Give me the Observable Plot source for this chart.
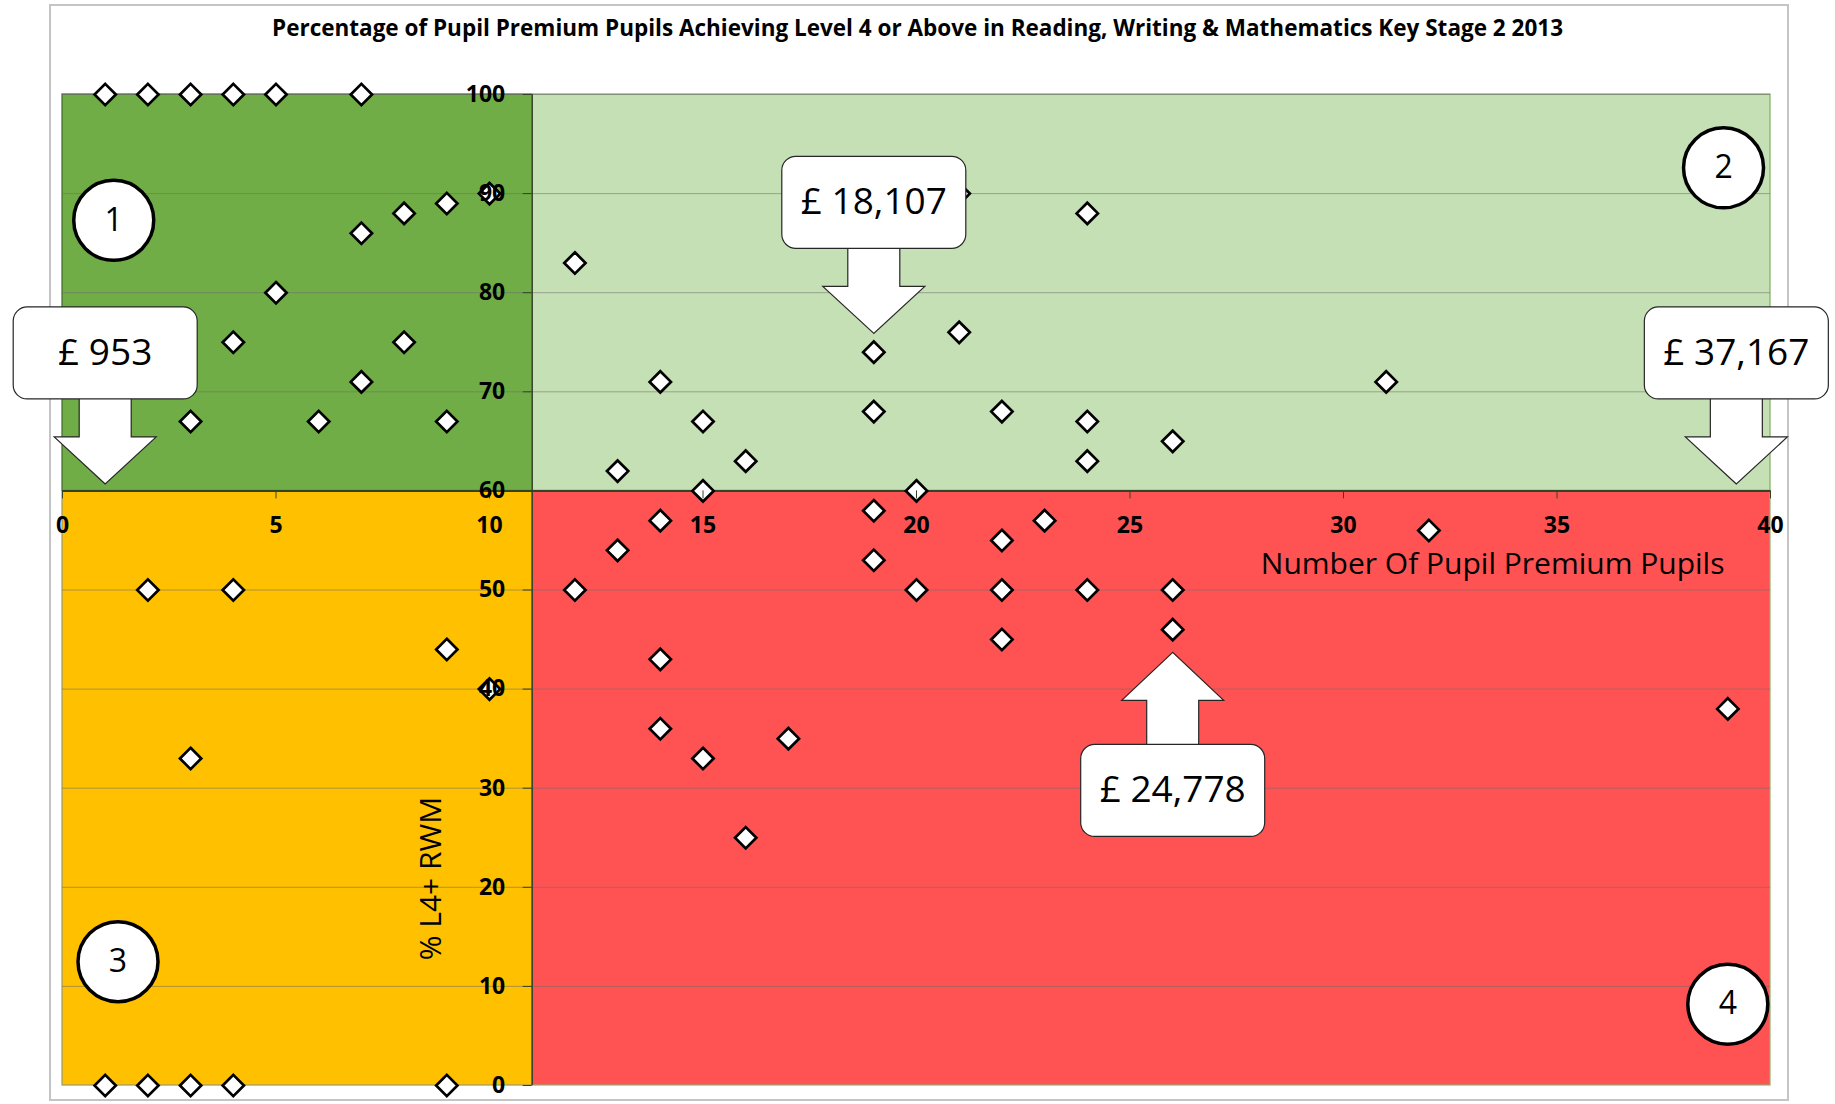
<!DOCTYPE html>
<html><head><meta charset="utf-8">
<script src="https://cdn.jsdelivr.net/npm/d3@7"></script>
<script src="https://cdn.jsdelivr.net/npm/@observablehq/plot@0.6"></script>
<style>
html,body{margin:0;padding:0;background:#fff;}
#wrap{position:relative;width:1835px;height:1104px;overflow:hidden;font-family:"Open Sans",sans-serif;}
#frame{position:absolute;left:49px;top:4px;width:1740px;height:1097px;border:2px solid #c4c4c4;box-sizing:border-box;}
#title{position:absolute;left:0;top:0;width:1835px;height:56px;line-height:56px;text-align:center;font-weight:700;font-size:22.5px;color:#000;white-space:nowrap;}
#chart{position:absolute;left:0;top:60px;}
</style></head>
<body><div id="wrap"><div id="frame"></div><div id="title"></div><div id="chart"></div></div>
<script>
// ---- text ----
const titleText = "Percentage of Pupil Premium Pupils Achieving Level 4 or Above in Reading, Writing & Mathematics Key Stage 2 2013";
const xLabel = "Number Of Pupil Premium Pupils";
const yLabel = "% L4+ RWM";

// ---- axes ----
const xTicks = [0, 5, 10, 15, 20, 25, 30, 35, 40];
const yTicks = [0, 10, 20, 30, 40, 50, 60, 70, 80, 90, 100];
const xSplit = 11;   // where the vertical axis crosses / quadrant split
const ySplit = 60;   // where the horizontal axis crosses / quadrant split

// ---- series: number of pupil premium pupils (x) and % L4+ RWM (y) ----
const pupils = [
  1, 2, 3, 4, 5, 7,
  10, 9, 8, 7, 5, 4, 8, 7, 3, 6, 9,
  12, 21, 24, 19, 21, 14, 19, 22, 24, 15, 26, 16, 24, 13, 15, 20, 31,
  2, 4, 9, 10, 3, 1, 2, 3, 4, 9,
  19, 14, 23, 32, 13, 22, 19, 12, 20, 22, 24, 26, 26, 22, 14, 39, 14, 17, 15, 16
];
const pctL4 = [
  100, 100, 100, 100, 100, 100,
  90, 89, 88, 86, 80, 75, 75, 71, 67, 67, 67,
  83, 90, 88, 74, 76, 71, 68, 68, 67, 67, 65, 63, 63, 62, 60, 60, 71,
  50, 50, 44, 40, 33, 0, 0, 0, 0, 0,
  58, 57, 57, 56, 54, 55, 53, 50, 50, 50, 50, 50, 46, 45, 43, 38, 36, 35, 33, 25
];

// ---- quadrant markers ----
const quadrantNames = ["1", "2", "3", "4"];
const quadrantLabelX = [1.2, 38.9, 1.3, 39.0];
const quadrantLabelY = [87.3, 92.6, 12.5, 8.2];

// ---- funding callouts ----
const calloutLabels = ["£ 953", "£ 18,107", "£ 37,167", "£ 24,778"];
const calloutX = [1, 19, 39.2, 26];
const calloutY = [60.7, 75.9, 60.7, 43.7];
const calloutDir = ["down", "down", "down", "up"];

// ---- styles ----
const quadFill = {"1": "#70AD47", "2": "#C5E0B4", "3": "#FFC000", "4": "#FF5353"};
const quadStroke = {"1": "#41692a", "2": "#7fae5c", "3": "#9a9a6a", "4": "#8fb070"};

document.getElementById("title").textContent = titleText;

const W = 1835, H = 1044, mL = 62, mR = 65, mT = 34, mB = 19;
const innerW = W - mL - mR, innerH = H - mT - mB;
const xDom = [xTicks[0], xTicks[xTicks.length - 1]];
const yDom = [yTicks[0], yTicks[yTicks.length - 1]];
const axisDy = -(ySplit - yDom[0]) / (yDom[1] - yDom[0]) * innerH;
const axisDx = (xSplit - xDom[0]) / (xDom[1] - xDom[0]) * innerW;

const points = pupils.map((x, i) => ({x, y: pctL4[i]}));
const quads = [
  {name: "1", x1: xDom[0], x2: xSplit, y1: ySplit, y2: yDom[1]},
  {name: "2", x1: xSplit, x2: xDom[1], y1: ySplit, y2: yDom[1]},
  {name: "3", x1: xDom[0], x2: xSplit, y1: yDom[0], y2: ySplit},
  {name: "4", x1: xSplit, x2: xDom[1], y1: yDom[0], y2: ySplit}
];
const quadLabels = quadrantNames.map((name, i) => ({name, x: quadrantLabelX[i], y: quadrantLabelY[i]}));
const callouts = calloutLabels.map((label, i) => ({label, x: calloutX[i], y: calloutY[i], dir: calloutDir[i]}));

function roundRect(ctx, x, y, w, h, r) {
  ctx.moveTo(x + r, y);
  ctx.lineTo(x + w - r, y);
  ctx.arcTo(x + w, y, x + w, y + r, r);
  ctx.lineTo(x + w, y + h - r);
  ctx.arcTo(x + w, y + h, x + w - r, y + h, r);
  ctx.lineTo(x + r, y + h);
  ctx.arcTo(x, y + h, x, y + h - r, r);
  ctx.lineTo(x, y + r);
  ctx.arcTo(x, y, x + r, y, r);
  ctx.closePath();
}
// s = -1: box above, arrow pointing down; s = +1: box below, arrow pointing up
function calloutShape(s) {
  const gap = s < 0 ? 85 : 92, head = s < 0 ? 47 : 48, boxH = 92;
  const hw = 51, sw = 26, bw = 92, rr = 14;
  return {
    draw(ctx) {
      ctx.moveTo(0, 0);
      ctx.lineTo(-hw, s * head);
      ctx.lineTo(-sw, s * head);
      ctx.lineTo(-sw, s * gap);
      ctx.lineTo(sw, s * gap);
      ctx.lineTo(sw, s * head);
      ctx.lineTo(hw, s * head);
      ctx.closePath();
      const yTop = s < 0 ? -(gap + boxH) : gap;
      roundRect(ctx, -bw, yTop, 2 * bw, boxH, rr);
    }
  };
}

const down = callouts.filter(d => d.dir === "down");
const up = callouts.filter(d => d.dir === "up");

const chart = Plot.plot({
  width: W, height: H,
  marginLeft: mL, marginRight: mR, marginTop: mT, marginBottom: mB,
  x: {domain: xDom, axis: null},
  y: {domain: yDom, axis: null},
  style: {background: "transparent", fontFamily: "'Open Sans', sans-serif", overflow: "visible", color: "black"},
  marks: [
    Plot.rect(quads, {x1: "x1", x2: "x2", y1: "y1", y2: "y2", fill: d => quadFill[d.name], stroke: d => quadStroke[d.name], strokeWidth: 1.2}),
    Plot.ruleY(yTicks.filter(v => v > yDom[0]), {stroke: "#6e6e6e", strokeOpacity: 0.55, strokeWidth: 1}),
    Plot.ruleY([ySplit], {stroke: "#34422a", strokeWidth: 2}),
    Plot.ruleX([xSplit], {stroke: "#34422a", strokeWidth: 1.5}),
    Plot.dot(points, {x: "x", y: "y", symbol: "diamond2", r: 9.6, fill: "white", stroke: "black", strokeWidth: 2.7}),
    Plot.axisX({ticks: xTicks, anchor: "bottom", dy: axisDy, tickSize: 8, tickPadding: 18, fontSize: 23, fontWeight: "bold", label: null, tickFormat: d => String(d), stroke: "#34422a"}),
    Plot.axisY({ticks: yTicks, anchor: "left", dx: axisDx, tickSize: 9, tickPadding: 18, fontSize: 23, fontWeight: "bold", label: null, tickFormat: d => String(d), stroke: "#34422a"}),
    Plot.text([xLabel], {x: () => xDom[1], y: () => ySplit, text: d => d, textAnchor: "end", dx: -46, dy: 73, fontSize: 30, fill: "black"}),
    Plot.text([yLabel], {x: () => xSplit, y: () => yDom[0], text: d => d, rotate: -90, dx: -101, dy: -207, fontSize: 30, fill: "black"}),
    Plot.dot(down, {x: "x", y: "y", symbol: calloutShape(-1), r: 1, fill: "white", stroke: "#262626", strokeWidth: 1.2}),
    Plot.dot(up, {x: "x", y: "y", symbol: calloutShape(1), r: 1, fill: "white", stroke: "#262626", strokeWidth: 1.2}),
    Plot.text(down, {x: "x", y: "y", text: "label", dy: -131, fontSize: 37, fill: "black"}),
    Plot.text(up, {x: "x", y: "y", text: "label", dy: 138, fontSize: 37, fill: "black"}),
    Plot.dot(quadLabels, {x: "x", y: "y", r: 40, fill: "white", stroke: "black", strokeWidth: 3.5}),
    Plot.text(quadLabels, {x: "x", y: "y", text: "name", fontSize: 32, fill: "black"})
  ]
});
document.getElementById("chart").appendChild(chart);
</script></body></html>
